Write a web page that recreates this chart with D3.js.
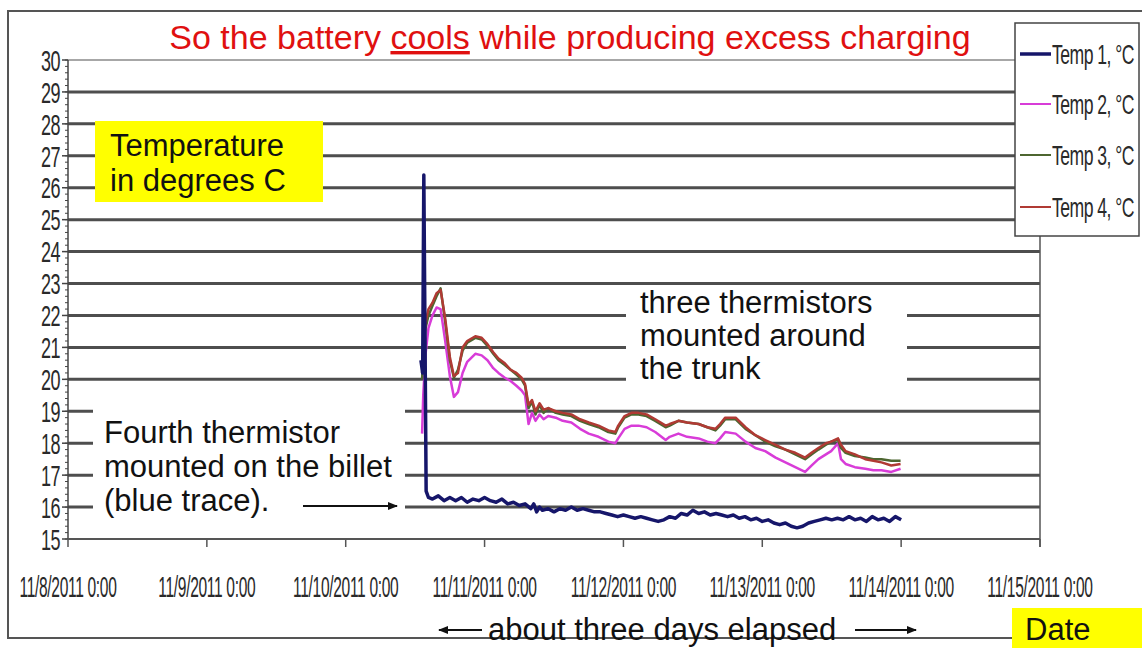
<!DOCTYPE html>
<html>
<head>
<meta charset="utf-8">
<script src="https://cdn.jsdelivr.net/npm/d3@7"></script>
<style>
  body { margin: 0; background: #fff; }
  svg { display: block; }
  .narrow { font-family: "Liberation Sans Narrow", "Arial Narrow", "Liberation Sans", sans-serif; fill: #2a2a2a; }
  .note { font-family: "Liberation Sans", Arial, sans-serif; font-size: 31px; fill: #111; }
</style>
</head>
<body>
<svg id="chart" width="1142" height="648"></svg>
<script>
// hours after 11/10/2011 0:00
const hours1 = [13.0, 13.3, 13.5, 13.9, 14.3, 15, 16, 17, 18, 19, 20, 21, 22, 23, 24, 25, 26, 27, 28, 29, 30, 31,
  32, 32.5, 33, 33.5, 34, 35, 36, 37, 38, 39, 40, 41, 42, 43, 44, 45, 46, 47, 48, 49, 50, 51, 52, 53, 54, 55, 56,
  57, 58, 59, 60, 61, 62, 63, 64, 65, 66, 67, 68, 69, 70, 71, 72, 73, 74, 75, 76, 77, 78, 79, 80, 81, 82, 83, 84,
  85, 86, 87, 88, 89, 90, 91, 92, 93, 94, 95, 96];
const temp1 = [20.6, 20.2, 26.4, 16.5, 16.3, 16.25, 16.35, 16.2, 16.3, 16.2, 16.3, 16.15, 16.25, 16.2, 16.3, 16.2,
  16.15, 16.25, 16.1, 16.15, 16.05, 16.1, 15.95, 16.1, 15.85, 16.0, 15.9, 15.95, 15.85, 15.95, 15.9, 16.0, 15.9,
  15.95, 15.9, 15.85, 15.85, 15.8, 15.75, 15.7, 15.75, 15.7, 15.65, 15.7, 15.65, 15.6, 15.55, 15.6, 15.7, 15.65,
  15.8, 15.75, 15.9, 15.8, 15.85, 15.75, 15.8, 15.75, 15.7, 15.75, 15.65, 15.7, 15.6, 15.65, 15.55, 15.6, 15.5,
  15.45, 15.5, 15.4, 15.35, 15.4, 15.5, 15.55, 15.6, 15.65, 15.6, 15.65, 15.6, 15.7, 15.6, 15.65, 15.55, 15.7,
  15.6, 15.65, 15.55, 15.7, 15.6];

const hours234 = [13.2, 13.4, 13.8, 14.3, 15.0, 15.7, 16.4, 17.2, 18.0, 18.7, 19.4, 20.2, 21.0, 22.4, 23.5, 24.5,
  25.5, 26.4, 27.5, 28.5, 29.5, 30.4, 31.0, 31.6, 32.2, 32.8, 33.5, 34.2, 35.0, 36.3, 37.5, 39.0, 40.5, 42.0, 43.7,
  45.4, 46.6, 47.1, 48.2, 49.4, 50.6, 52.0, 53.5, 55.3, 56.0, 57.5, 59.0, 61.0, 62.5, 63.9, 64.7, 65.6, 67.4, 69.1,
  70.8, 72.5, 74.3, 76.0, 77.7, 79.4, 80.5, 81.7, 83.0, 83.9, 85.1, 85.6, 86.4, 88.0, 89.8, 91.2, 92.6, 94.3, 95.9];
const temp2 = [18.3, 19.5, 20.8, 21.6, 22.0, 22.25, 22.2, 21.2, 20.1, 19.45, 19.6, 20.2, 20.55, 20.8, 20.75, 20.6,
  20.35, 20.2, 20.05, 19.95, 19.8, 19.65, 19.5, 18.6, 18.95, 18.7, 18.9, 18.75, 18.85, 18.8, 18.7, 18.65, 18.45,
  18.3, 18.2, 18.05, 18.0, 18.15, 18.45, 18.55, 18.55, 18.5, 18.35, 18.1, 18.2, 18.3, 18.2, 18.15, 18.05, 18.0,
  18.15, 18.35, 18.3, 18.05, 17.85, 17.75, 17.55, 17.4, 17.25, 17.1, 17.3, 17.5, 17.65, 17.75, 18.0, 17.5, 17.35,
  17.25, 17.2, 17.15, 17.15, 17.1, 17.2];
const temp3 = [20.0, 20.8, 21.6, 22.0, 22.3, 22.6, 22.85, 21.8, 20.6, 20.05, 20.3, 20.9, 21.15, 21.3, 21.25, 21.05,
  20.8, 20.6, 20.45, 20.3, 20.15, 20.0, 19.8, 19.1, 19.3, 18.9, 19.2, 18.95, 19.1, 18.95, 18.9, 18.85, 18.7, 18.6,
  18.5, 18.35, 18.3, 18.5, 18.8, 18.9, 18.9, 18.85, 18.7, 18.5, 18.55, 18.7, 18.65, 18.6, 18.5, 18.4, 18.55, 18.75,
  18.75, 18.45, 18.25, 18.05, 17.9, 17.8, 17.65, 17.5, 17.65, 17.8, 17.95, 18.05, 18.1, 17.85, 17.7, 17.6, 17.55,
  17.5, 17.5, 17.45, 17.45];
const temp4 = [20.2, 20.9, 21.8, 22.2, 22.4, 22.7, 22.8, 21.9, 20.7, 20.1, 20.2, 21.0, 21.2, 21.35, 21.3, 21.1,
  20.85, 20.65, 20.5, 20.3, 20.2, 20.05, 19.85, 19.2, 19.35, 19.0, 19.25, 19.05, 19.1, 19.0, 18.95, 18.9, 18.75,
  18.65, 18.55, 18.4, 18.35, 18.55, 18.85, 18.95, 18.95, 18.9, 18.75, 18.55, 18.6, 18.7, 18.65, 18.6, 18.5, 18.45,
  18.6, 18.8, 18.8, 18.5, 18.25, 18.1, 17.95, 17.8, 17.7, 17.55, 17.7, 17.85, 18.0, 18.05, 18.15, 17.95, 17.75,
  17.65, 17.5, 17.45, 17.4, 17.3, 17.35];

const seriesNames = ["Temp 1, °C", "Temp 2, °C", "Temp 3, °C", "Temp 4, °C"];
const seriesColors = ["#16166a", "#d83cd8", "#4d6630", "#b03a34"];
const yTicks = d3.range(15, 31);
const xTickLabels = ["11/8/2011 0:00", "11/9/2011 0:00", "11/10/2011 0:00", "11/11/2011 0:00",
  "11/12/2011 0:00", "11/13/2011 0:00", "11/14/2011 0:00", "11/15/2011 0:00"];

const day0 = new Date(2011, 10, 8);
const start = new Date(2011, 10, 10);
const toDate = h => new Date(+start + h * 3600e3);

const svg = d3.select("#chart");
const x = d3.scaleTime().domain([day0, new Date(2011, 10, 15)]).range([68, 1040]);
const y = d3.scaleLinear().domain([15, 30]).range([539, 60]);

// outer frame
svg.append("path")
  .attr("d", "M1142,11 H8 V638 H1142")
  .attr("fill", "none").attr("stroke", "#555").attr("stroke-width", 2);

// gridlines
svg.append("g").selectAll("line")
  .data(yTicks.filter(v => v > 15))
  .join("line")
  .attr("x1", 68).attr("x2", 1040)
  .attr("y1", d => y(d)).attr("y2", d => y(d))
  .attr("stroke", d => d === 30 ? "#8a8a8a" : "#4e4e4e")
  .attr("stroke-width", d => d === 30 ? 1.5 : 3);

// right border of plot
svg.append("line")
  .attr("x1", 1040).attr("x2", 1040).attr("y1", y(30)).attr("y2", y(15) + 8)
  .attr("stroke", "#555").attr("stroke-width", 1.5);

// y axis with minor ticks
const yAxis = svg.append("g");
yAxis.append("line").attr("x1", 68).attr("x2", 68).attr("y1", y(30)).attr("y2", y(15))
  .attr("stroke", "#444").attr("stroke-width", 1.5);
yAxis.selectAll("line.minor")
  .data(d3.range(150, 301, 2).map(v => v / 10))
  .join("line").attr("class", "minor")
  .attr("x1", 65).attr("x2", 68).attr("y1", d => y(d)).attr("y2", d => y(d))
  .attr("stroke", "#444").attr("stroke-width", 1);
yAxis.selectAll("line.major")
  .data(yTicks)
  .join("line").attr("class", "major")
  .attr("x1", 62).attr("x2", 68).attr("y1", d => y(d)).attr("y2", d => y(d))
  .attr("stroke", "#444").attr("stroke-width", 1.5);
yAxis.selectAll("text")
  .data(yTicks)
  .join("text").attr("class", "narrow")
  .attr("transform", d => `translate(60,${y(d)}) scale(0.82,1.35)`)
  .attr("text-anchor", "end").attr("dy", "0.36em")
  .attr("font-size", 22).attr("letter-spacing", -0.6)
  .text(d => d);

// x axis
const xAxis = svg.append("g");
xAxis.append("line").attr("x1", 68).attr("x2", 1040).attr("y1", y(15)).attr("y2", y(15))
  .attr("stroke", "#555").attr("stroke-width", 2);
const xTickDates = d3.timeDay.range(day0, new Date(2011, 10, 16));
xAxis.selectAll("line.tick")
  .data(xTickDates)
  .join("line").attr("class", "tick")
  .attr("x1", d => x(d)).attr("x2", d => x(d)).attr("y1", y(15)).attr("y2", y(15) + 8)
  .attr("stroke", "#555").attr("stroke-width", 1.5);
xAxis.selectAll("text")
  .data(xTickDates)
  .join("text").attr("class", "narrow")
  .attr("transform", d => `translate(${x(d)},586) scale(0.82,1.6)`)
  .attr("text-anchor", "middle").attr("dy", "0.36em")
  .attr("font-size", 19).attr("letter-spacing", -0.4)
  .text((d, i) => xTickLabels[i]);

// annotation boxes covering gridlines
svg.append("rect").attr("x", 95).attr("y", 121).attr("width", 228).attr("height", 81).attr("fill", "#ffff00");
svg.append("text").attr("class", "note").attr("x", 110).attr("y", 156).text("Temperature");
svg.append("text").attr("class", "note").attr("x", 110).attr("y", 191).text("in degrees C");

svg.append("rect").attr("x", 626).attr("y", 286).attr("width", 281).attr("height", 100).attr("fill", "#fff");
["three thermistors", "mounted around", "the trunk"].forEach((t, i) =>
  svg.append("text").attr("class", "note").attr("x", 640).attr("y", 313 + i * 33).text(t));

svg.append("rect").attr("x", 93).attr("y", 404).attr("width", 312).attr("height", 120).attr("fill", "#fff");
["Fourth thermistor", "mounted on the billet", "(blue trace)."].forEach((t, i) =>
  svg.append("text").attr("class", "note").attr("x", 104).attr("y", 443 + i * 34).text(t));

// arrows
const defs = svg.append("defs");
defs.append("marker").attr("id", "head").attr("viewBox", "0 0 10 10")
  .attr("refX", 9).attr("refY", 5).attr("markerWidth", 5).attr("markerHeight", 5)
  .attr("orient", "auto-start-reverse")
  .append("path").attr("d", "M0,1 L10,5 L0,9 Z").attr("fill", "#111");
const arrow = (x1, x2, yy, start) => svg.append("line")
  .attr("x1", x1).attr("x2", x2).attr("y1", yy).attr("y2", yy)
  .attr("stroke", "#111").attr("stroke-width", 2)
  .attr(start ? "marker-start" : "marker-end", "url(#head)");
arrow(303, 397, 506, false);
arrow(439, 482, 630, true);
arrow(855, 916, 630, false);

// data lines
const line = d3.line().x(d => x(d[0])).y(d => y(d[1]));
const series = [
  { hours: hours1, values: temp1, w: 3.5 },
  { hours: hours234, values: temp2, w: 2.5 },
  { hours: hours234, values: temp3, w: 2.5 },
  { hours: hours234, values: temp4, w: 2.5 }
];
const drawOrder = [1, 2, 3, 0];
for (const i of drawOrder) {
  const s = series[i];
  svg.append("path")
    .attr("d", line(s.hours.map((h, k) => [toDate(h), s.values[k]])))
    .attr("fill", "none")
    .attr("stroke", seriesColors[i])
    .attr("stroke-width", s.w)
    .attr("stroke-linejoin", "round");
}

// legend
const legend = svg.append("g");
legend.append("rect").attr("x", 1015).attr("y", 23).attr("width", 124).attr("height", 213)
  .attr("fill", "#fff").attr("stroke", "#444").attr("stroke-width", 1.5);
seriesNames.forEach((name, i) => {
  const ly = [54, 104, 155, 207][i];
  legend.append("line").attr("x1", 1020).attr("x2", 1051).attr("y1", ly).attr("y2", ly)
    .attr("stroke", seriesColors[i]).attr("stroke-width", i === 0 ? 3.5 : 2);
  legend.append("text").attr("class", "narrow")
    .attr("transform", `translate(1052,${ly}) scale(0.88,1.35)`)
    .attr("dy", "0.36em").attr("font-size", 20).attr("letter-spacing", -0.6)
    .text(name);
});

// title
svg.append("text")
  .attr("x", 570).attr("y", 49).attr("text-anchor", "middle")
  .attr("font-family", "Liberation Sans, Arial, sans-serif").attr("font-size", 34).attr("fill", "#e01010")
  .call(t => {
    t.append("tspan").text("So the battery ");
    t.append("tspan").attr("text-decoration", "underline").text("cools");
    t.append("tspan").text(" while producing excess charging");
  });

// bottom notes
svg.append("text").attr("class", "note").attr("x", 488).attr("y", 640).text("about three days elapsed");
svg.append("rect").attr("x", 1012).attr("y", 608).attr("width", 130).attr("height", 40).attr("fill", "#ffff00");
svg.append("text").attr("class", "note").attr("x", 1025).attr("y", 640).text("Date");
</script>
</body>
</html>
